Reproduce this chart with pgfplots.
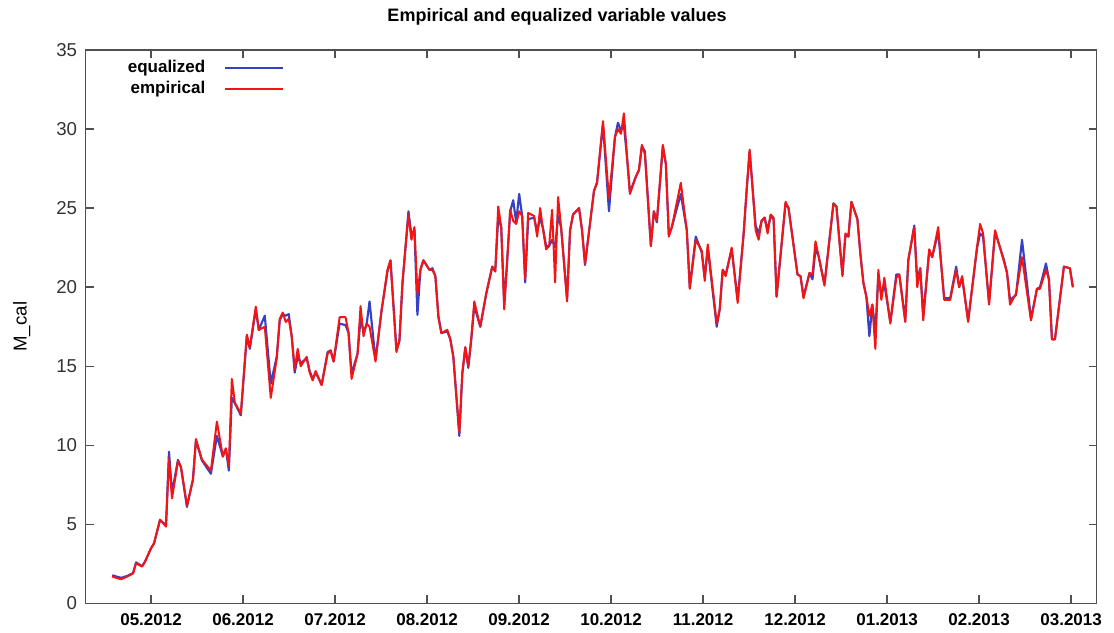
\documentclass[border=0pt]{standalone}
\usepackage{fontspec}
\setmainfont{Liberation Sans}
\usepackage{pgfplots}
\pgfplotsset{compat=1.18}
\usepackage{pgfplotstable}
\definecolor{eqblue}{RGB}{55,65,195}
\definecolor{emred}{RGB}{245,20,20}
\definecolor{axgray}{RGB}{80,80,80}

\pgfplotstableread{
d emp eq
-13 1.70 1.78
-10 1.53 1.62
-8 1.70 1.74
-6 1.90 1.92
-5 2.55 2.60
-3 2.33 2.36
-2 2.65 2.65
0 3.50 3.49
1 3.80 3.80
3 5.30 5.28
5 4.86 4.95
6 9.20 9.60
7 6.65 7.00
9 9.00 9.08
10 8.65 8.60
12 6.20 6.10
14 7.80 7.85
15 10.40 10.30
17 9.10 9.05
20 8.40 8.20
22 11.50 10.60
24 9.30 9.29
25 9.80 9.80
26 8.70 8.40
27 14.20 13.00
28 12.70 12.66
30 12.00 11.90
32 17.00 16.90
33 16.20 16.10
35 18.77 18.60
36 17.30 17.30
38 17.50 18.20
40 13.00 13.90
42 15.50 15.60
43 18.00 17.90
44 18.40 18.30
45 17.80 18.20
46 18.00 18.30
47 16.90 16.90
48 14.80 14.60
49 16.10 15.60
50 15.00 15.20
52 15.60 15.50
53 14.60 14.70
54 14.10 14.20
55 14.70 14.60
57 13.80 13.85
59 15.80 15.90
60 16.00 16.00
61 15.30 15.30
63 18.10 17.70
65 18.10 17.60
66 17.10 17.10
67 14.20 14.50
69 15.80 15.80
70 18.80 18.00
71 16.90 17.20
72 17.70 17.60
73 17.50 19.10
75 15.30 15.40
77 18.50 18.50
79 21.10 21.00
80 21.70 21.70
82 15.90 16.00
83 16.70 16.60
84 20.30 20.20
86 24.60 24.80
87 23.00 23.30
88 23.80 23.60
89 19.60 18.25
90 21.10 21.10
91 21.70 21.70
93 21.10 21.10
94 21.10 21.20
95 20.70 20.70
96 18.10 18.20
97 17.10 17.10
99 17.30 17.20
100 16.70 16.70
101 15.60 15.60
103 10.80 10.60
104 14.60 14.50
105 16.20 16.20
106 15.00 14.90
107 16.80 16.70
108 19.10 18.80
110 17.50 17.50
112 19.60 19.60
114 21.30 21.30
115 21.00 21.00
116 25.10 24.40
117 23.80 23.80
118 18.60 18.90
119 21.70 21.70
120 24.90 24.80
121 24.20 25.50
122 24.00 24.10
123 24.80 25.90
124 24.50 24.50
125 20.50 20.30
126 24.70 24.30
128 24.50 24.40
129 23.20 23.50
130 25.00 24.40
131 23.60 23.70
132 22.40 22.60
133 22.60 22.60
134 24.90 23.00
135 20.30 22.50
136 25.70 24.50
137 23.80 23.80
139 19.10 19.30
140 23.60 23.60
141 24.60 24.60
143 25.00 25.00
144 23.60 23.60
145 21.50 21.40
146 23.00 23.00
148 26.10 26.10
149 26.60 26.60
151 30.50 30.30
153 25.60 24.80
155 29.50 29.50
156 30.00 30.40
157 29.70 29.90
158 31.00 30.20
159 28.30 28.30
160 25.90 26.00
162 27.00 27.00
163 27.40 27.40
164 29.00 28.90
165 28.40 28.60
167 22.60 22.60
168 24.80 24.80
169 24.20 24.10
171 29.00 28.90
172 27.80 27.80
173 23.20 23.30
174 23.80 23.80
177 26.60 25.90
179 23.60 23.60
180 19.90 20.00
182 23.00 23.20
184 22.30 22.20
185 20.40 20.60
186 22.70 22.50
189 17.70 17.50
190 18.60 18.60
191 21.10 21.10
192 20.70 20.80
194 22.50 22.40
196 19.00 19.20
198 23.40 23.40
199 26.20 26.10
200 28.70 28.60
202 23.60 23.90
203 23.00 23.40
204 24.20 24.20
205 24.40 24.40
206 23.40 23.60
207 24.60 24.50
208 24.40 24.30
209 19.40 19.40
212 25.40 25.30
213 25.00 25.00
216 20.80 20.80
217 20.70 20.70
218 19.30 19.40
220 20.90 20.90
221 20.80 20.50
222 22.90 22.40
223 22.00 22.00
225 20.10 20.20
228 25.30 25.30
229 25.10 25.10
231 20.70 20.80
232 23.40 23.30
233 23.20 23.20
234 25.40 25.40
236 24.30 24.30
237 22.10 22.10
238 20.25 20.30
239 19.40 19.40
240 18.20 16.90
241 18.90 18.90
242 16.10 17.20
243 21.10 20.80
244 19.20 19.50
245 20.60 20.20
247 17.70 17.80
249 20.60 20.80
250 20.80 20.80
252 17.80 17.90
253 21.70 21.70
255 23.80 23.90
256 20.00 20.40
257 21.20 21.20
258 17.90 18.20
260 22.40 22.30
261 21.90 21.90
263 23.80 23.50
265 19.20 19.30
267 19.20 19.30
269 21.10 21.30
270 20.00 20.00
271 20.70 20.60
273 17.80 17.90
276 22.60 22.50
277 24.00 23.40
278 23.40 23.20
280 18.90 19.00
282 23.60 23.50
285 21.60 21.70
286 20.90 20.90
287 18.90 19.20
289 19.60 19.50
291 21.90 23.00
294 17.90 18.00
296 19.90 19.90
297 19.90 20.00
299 21.10 21.50
300 20.50 20.50
301 16.70 16.70
302 16.70 16.70
305 21.30 21.30
307 21.20 21.20
308 20.00 20.00
}\datatable

\begin{document}
\begin{tikzpicture}
\path[use as bounding box] (-64.3pt,-21.4pt) rectangle (771.2pt,452.6pt);
\begin{axis}[
  at={(0pt,0pt)}, anchor=south west,
  scale only axis, width=758.25pt, height=415.1pt,
  xmin=-21.82, xmax=315.97, ymin=0, ymax=35,
  xtick={0,30.74,61.48,92.22,122.96,153.7,184.44,215.18,245.92,276.66,307.4},
  xticklabels={05.2012,06.2012,07.2012,08.2012,09.2012,10.2012,11.2012,12.2012,01.2013,02.2013,03.2013},
  ytick={0,5,10,15,20,25,30,35},
  tick align=inside, major tick length=6pt,
  axis line style={axgray, line width=1.1pt},
  every tick/.style={axgray, line width=1.1pt},
  xticklabel style={font=\bfseries\fontsize{12.75}{14}\selectfont, yshift=-4pt},
  yticklabel style={font=\fontsize{14}{16}\selectfont, color=black!80, xshift=-3pt},
  /pgf/number format/assume math mode=true,
]
\addplot[eqblue, line width=1.6pt, line join=round] table[x=d,y=eq]{\datatable};
\addplot[emred, line width=1.5pt, line join=round] table[x=d,y=emp]{\datatable};
\end{axis}
\node[font=\bfseries\fontsize{13.5}{15}\selectfont] at (353.5pt,439.9pt) {Empirical and equalized variable values};
\node[rotate=90, font=\fontsize{14}{16}\selectfont] at (-48pt,207.6pt) {M\_cal};
\node[anchor=east, font=\bfseries\fontsize{12.75}{14}\selectfont] at (93.2pt,401.6pt) {equalized};
\draw[eqblue, line width=1.5pt] (104.5pt,401.6pt) -- (148pt,401.6pt);
\node[anchor=east, font=\bfseries\fontsize{12.75}{14}\selectfont] at (93.2pt,385.9pt) {empirical};
\draw[emred, line width=1.5pt] (104.5pt,385.9pt) -- (148pt,385.9pt);
\end{tikzpicture}
\end{document}
